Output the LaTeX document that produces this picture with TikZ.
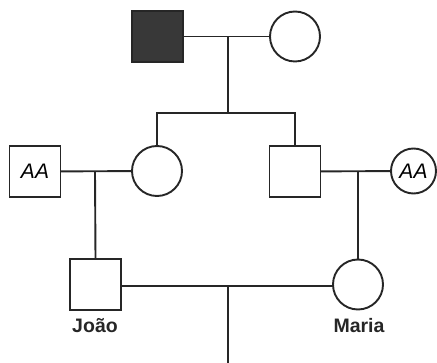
\documentclass[tikz,border=0pt]{standalone}
\usepackage{fontspec}
\setmainfont{Liberation Sans}
\begin{document}
\begin{tikzpicture}[x=1pt,y=-1pt,
  line width=1.9pt,
  male/.style={draw=black!85, minimum size=51pt, inner sep=0pt, outer sep=0pt},
  female/.style={draw=black!85, circle, minimum size=50pt, inner sep=0pt, outer sep=0pt},
  link/.style={draw=black!85},
  aa/.style={font=\fontsize{21}{22}\selectfont\itshape},
  lbl/.style={font=\fontsize{19.5}{21}\selectfont\bfseries, text=black!85, inner sep=0pt}]
\useasboundingbox (0,0) rectangle (437,363);
% generation I
\node[male, fill=black!78] (gf) at (157.5,36.5) {};
\node[female] (gm) at (295,36.5) {};
% generation II
\node[male, aa] (aam) at (35,171.5) {AA};
\node[female] (mom) at (157,171) {};
\node[male] (dad) at (295,171.5) {};
\node[female, minimum size=45pt, aa] (aaf) at (413.5,171) {AA};
% generation III
\node[male] (joao) at (95.5,284.5) {};
\node[female] (maria) at (358,284.5) {};
\node[lbl] (lj) at (95,326) {João};
\node[lbl] (lm) at (359,326) {Maria};
% junctions
\coordinate (m1) at (228,36.5);
\coordinate (s1) at (228,113);
\coordinate (m2) at (95,171.5);
\coordinate (m3) at (358,171.5);
\coordinate (m4) at (228,286);
\coordinate (end) at (228,363);
% connectors
\draw[link] (gf) -- (gm);
\draw[link] (m1) -- (s1);
\draw[link] (mom.north) |- (s1) -| (dad.north);
\draw[link] (aam) -- (mom);
\draw[link] (m2) -- (joao.north);
\draw[link] (dad) -- (aaf);
\draw[link] (m3) -- (maria.north);
\draw[link] (joao.east |- m4) -- (maria.west |- m4);
\draw[link] (m4) -- (end);
\end{tikzpicture}
\end{document}
